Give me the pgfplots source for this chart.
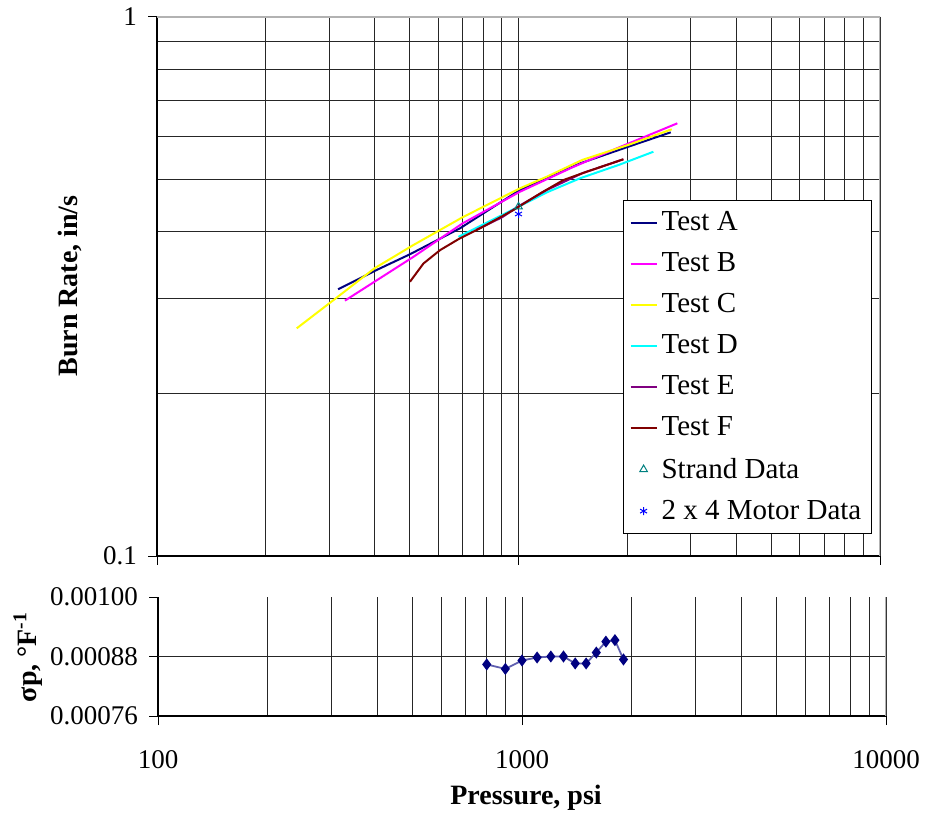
\documentclass[border=0pt]{standalone}
\usepackage{fontspec}
\setmainfont{Liberation Serif}
\usepackage{pgfplots}
\pgfplotsset{compat=1.18}
\definecolor{cA}{RGB}{0,0,128}
\definecolor{cB}{RGB}{255,0,255}
\definecolor{cC}{RGB}{255,255,0}
\definecolor{cD}{RGB}{0,255,255}
\definecolor{cE}{RGB}{128,0,128}
\definecolor{cF}{RGB}{128,0,0}
\definecolor{cS}{RGB}{0,128,128}
\definecolor{cM}{RGB}{0,0,255}
\definecolor{cLine}{RGB}{95,95,175}
\pgfplotsset{
  lineleg/.style={legend image code/.code={\draw[##1] (0pt,0pt) -- (13pt,0pt);}},
  markleg/.style={legend image code/.code={\draw[mark repeat=2,mark phase=2,##1] plot coordinates {(0pt,0pt) (6.5pt,0pt) (13pt,0pt)};}},
}
\begin{document}
\begin{tikzpicture}
\useasboundingbox (0,0) rectangle (462.5pt,407.5pt);
\begin{axis}[
  at={(78.5pt,129.5pt)}, anchor=south west, scale only axis,
  width=361.5pt, height=269.5pt,
  xmode=log, ymode=log, xmin=100, xmax=10000, ymin=0.1, ymax=1,
  xtick={100,1000,10000}, xticklabels={,,},
  ytick={0.1,1}, yticklabels={0.1,1},
  minor xtick={200,300,400,500,600,700,800,900,2000,3000,4000,5000,6000,7000,8000,9000},
  minor ytick={0.2,0.3,0.4,0.5,0.6,0.7,0.8,0.9},
  grid=both,
  major grid style={black!85, line width=0.5pt},
  minor grid style={black!85, line width=0.5pt},
  axis x line*=bottom, axis y line*=left,
  axis line style={-, black, line width=0.6pt},
  tick align=outside, major tick length=4.5pt, minor tick length=0pt,
  tick style={black, line width=0.5pt},
  yticklabel style={font=\fontsize{13.5}{15}\selectfont, xshift=-2pt},
  legend style={at={(0.6445,0.6605)}, anchor=north west, draw=black, line width=0.6pt,
    font=\fontsize{14.5}{16}\selectfont, row sep=5.5pt, inner xsep=3pt, inner ysep=3.5pt,
    /tikz/every even column/.append style={column sep=3pt}},
  legend cell align=left,
]
\draw[black!30, line width=0.8pt] (rel axis cs:0,1) -- (rel axis cs:1,1) -- (rel axis cs:1,0);
\addplot[cA, line width=1pt, lineleg] coordinates {
 (317,0.3125) (400,0.338) (501,0.363) (689,0.4055) (1009,0.4777) (1197,0.502) (1479,0.535) (2011,0.5745) (2637,0.611)};
\addlegendentry{Test A}
\addplot[cB, line width=1pt, lineleg] coordinates {
 (331,0.2977) (512,0.359) (700,0.414) (1009,0.474) (1400,0.525) (1828,0.567) (2750,0.635)};
\addlegendentry{Test B}
\addplot[cC, line width=1pt, lineleg] coordinates {
 (243.5,0.2645) (317,0.303) (400,0.342) (512,0.3776) (700,0.425) (1009,0.481) (1197,0.5054) (1500,0.543) (2011,0.579) (2654,0.619)};
\addlegendentry{Test C}
\addplot[cD, line width=1pt, lineleg] coordinates {
 (682,0.391) (783,0.4095) (1009,0.446) (1200,0.473) (1479,0.502) (1900,0.532) (2361,0.5624)};
\addlegendentry{Test D}
\addplot[cE, line width=1pt, lineleg] coordinates {
 (766,0.403) (900,0.425) (1009,0.447) (1200,0.478) (1500,0.513) (1950,0.5445)};
\addlegendentry{Test E}
\addplot[cF, line width=1pt, lineleg] coordinates {
 (501,0.3228) (546,0.349) (607,0.3695) (689,0.3886) (783,0.4055) (968,0.4384) (1150,0.471) (1331,0.4983) (1544,0.5164) (1950,0.5445)};
\addlegendentry{Test F}
\addplot[only marks, mark=triangle, mark size=2.2pt, mark options={draw=cS, line width=0.5pt}, markleg] coordinates {(1000,0.4446)};
\addlegendentry{Strand Data}
\addplot[only marks, mark=asterisk, mark size=2pt, mark options={draw=cM, line width=0.5pt}, markleg] coordinates {(1000,0.431)};
\addlegendentry{2 x 4 Motor Data}
\end{axis}
\begin{axis}[
  at={(79pt,49.5pt)}, anchor=south west, scale only axis,
  width=364pt, height=59.5pt,
  xmode=log, xmin=100, xmax=10000, ymin=0.00076, ymax=0.00100,
  scaled y ticks=false,
  xtick={100,1000,10000}, xticklabels={100,1000,10000},
  ytick={0.00076,0.00088,0.00100}, yticklabels={0.00076,0.00088,0.00100},
  minor xtick={200,300,400,500,600,700,800,900,2000,3000,4000,5000,6000,7000,8000,9000},
  xmajorgrids, xminorgrids,
  major grid style={black!85, line width=0.5pt},
  minor grid style={black!85, line width=0.5pt},
  axis x line*=bottom, axis y line*=left,
  axis line style={-, black, line width=0.6pt},
  tick align=outside, major tick length=4.5pt, minor tick length=0pt,
  tick style={black, line width=0.5pt},
  yticklabel style={font=\fontsize{13.5}{15}\selectfont, xshift=-2pt},
  xticklabel style={font=\fontsize{13.5}{15}\selectfont, yshift=-9pt},
]
\draw[black!85, line width=0.5pt] (rel axis cs:0,0.5) -- (rel axis cs:1,0.5);
\draw[black!30, line width=0.8pt] (rel axis cs:1,0) -- (rel axis cs:1,1);
\addplot[cLine, line width=0.9pt, mark=diamond*, mark size=2.3pt, mark options={fill=cA, draw=cA}] coordinates {
 (800,0.000864) (900,0.000855) (1000,0.000872) (1100,0.000878) (1200,0.000880) (1300,0.000880)
 (1400,0.000866) (1500,0.000866) (1600,0.000888) (1700,0.000910) (1800,0.000913) (1900,0.000874)};
\end{axis}
\node[rotate=90, font=\bfseries\fontsize{14}{16}\selectfont] at (35pt,264.5pt) {Burn Rate, in/s};
\node[rotate=90, font=\bfseries\fontsize{14}{16}\selectfont] at (14pt,79pt) {σp, °F\textsuperscript{-1}};
\node[font=\bfseries\fontsize{14}{16}\selectfont] at (263pt,8.5pt) {Pressure, psi};
\end{tikzpicture}
\end{document}
